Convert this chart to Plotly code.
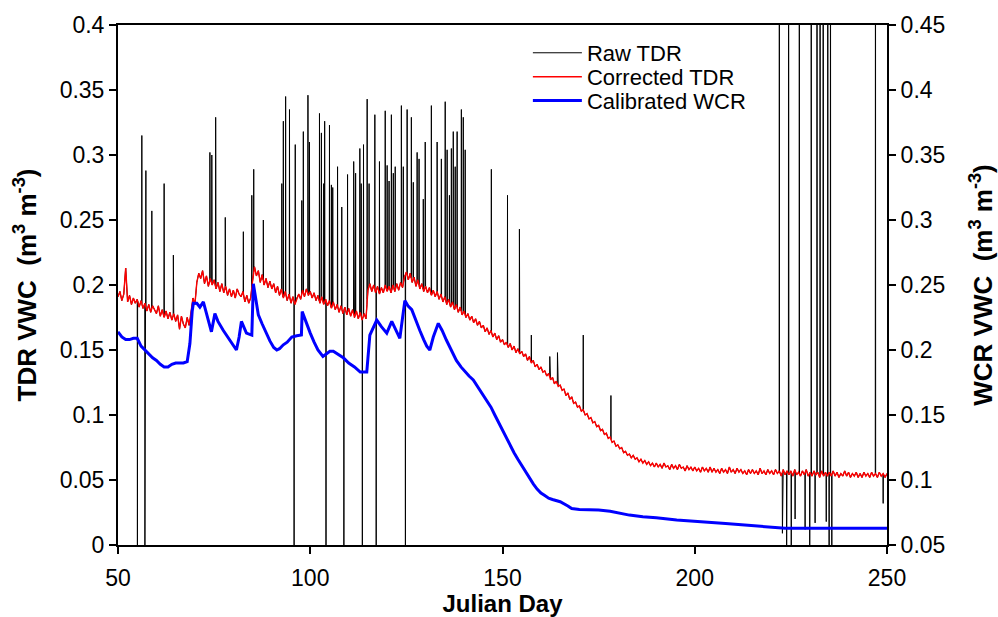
import numpy as np
import plotly.graph_objects as go

# ---------------- data ----------------
# Corrected TDR (left axis, m3 m-3), sampled every 0.5 day from day 50 to 250
corrected_start = 50.0
corrected_step = 0.5
corrected_tdr = [
    0.191, 0.195, 0.188, 0.193, 0.213, 0.187, 0.192, 0.185, 0.190, 0.186,
    0.189, 0.183, 0.188, 0.182, 0.186, 0.180, 0.185, 0.179, 0.184, 0.181,
    0.178, 0.184, 0.176, 0.181, 0.175, 0.180, 0.174, 0.179, 0.173, 0.178,
    0.172, 0.177, 0.166, 0.176, 0.170, 0.167, 0.175, 0.169, 0.178, 0.190,
    0.185, 0.202, 0.209, 0.205, 0.211, 0.201, 0.207, 0.199, 0.205, 0.200,
    0.204, 0.197, 0.202, 0.195, 0.201, 0.194, 0.199, 0.192, 0.197, 0.191,
    0.196, 0.190, 0.197, 0.193, 0.191, 0.195, 0.187, 0.192, 0.186, 0.190,
    0.203, 0.214, 0.207, 0.211, 0.202, 0.208, 0.200, 0.205, 0.198, 0.203,
    0.197, 0.201, 0.194, 0.199, 0.192, 0.197, 0.190, 0.195, 0.188, 0.193,
    0.186, 0.191, 0.185, 0.190, 0.193, 0.189, 0.196, 0.191, 0.197, 0.192,
    0.195, 0.190, 0.194, 0.188, 0.192, 0.186, 0.191, 0.185, 0.189, 0.184,
    0.188, 0.182, 0.187, 0.181, 0.185, 0.179, 0.184, 0.178, 0.183, 0.177,
    0.182, 0.176, 0.181, 0.175, 0.180, 0.174, 0.179, 0.173, 0.178, 0.174,
    0.196, 0.201, 0.195, 0.200, 0.194, 0.199, 0.193, 0.198, 0.194, 0.200,
    0.195, 0.199, 0.194, 0.200, 0.195, 0.201, 0.196, 0.202, 0.198, 0.206,
    0.210, 0.204, 0.209, 0.202, 0.206, 0.199, 0.204, 0.197, 0.201, 0.195,
    0.199, 0.194, 0.198, 0.192, 0.196, 0.191, 0.195, 0.189, 0.193, 0.187,
    0.191, 0.185, 0.189, 0.183, 0.187, 0.181, 0.185, 0.179, 0.183, 0.177,
    0.180, 0.175, 0.178, 0.173, 0.176, 0.171, 0.174, 0.169, 0.172, 0.167,
    0.169, 0.164, 0.167, 0.162, 0.165, 0.160, 0.163, 0.158, 0.161, 0.156,
    0.158, 0.154, 0.156, 0.152, 0.155, 0.150, 0.153, 0.148, 0.151, 0.147,
    0.149, 0.145, 0.147, 0.142, 0.145, 0.140, 0.142, 0.137, 0.139, 0.135,
    0.137, 0.133, 0.134, 0.130, 0.132, 0.127, 0.129, 0.124, 0.126, 0.122,
    0.123, 0.119, 0.120, 0.115, 0.117, 0.112, 0.114, 0.109, 0.110, 0.106,
    0.107, 0.103, 0.104, 0.100, 0.101, 0.097, 0.098, 0.094, 0.095, 0.091,
    0.092, 0.088, 0.089, 0.085, 0.086, 0.082, 0.083, 0.079, 0.080, 0.076,
    0.077, 0.074, 0.075, 0.071, 0.072, 0.069, 0.070, 0.067, 0.069, 0.066,
    0.067, 0.064, 0.066, 0.063, 0.065, 0.062, 0.064, 0.061, 0.063, 0.060,
    0.063, 0.060, 0.062, 0.059, 0.063, 0.060, 0.061, 0.058, 0.062, 0.059,
    0.061, 0.058, 0.062, 0.059, 0.060, 0.057, 0.061, 0.058, 0.060, 0.057,
    0.060, 0.057, 0.059, 0.056, 0.060, 0.057, 0.059, 0.056, 0.060, 0.056,
    0.059, 0.056, 0.058, 0.055, 0.059, 0.056, 0.058, 0.055, 0.060, 0.056,
    0.058, 0.055, 0.059, 0.056, 0.058, 0.055, 0.057, 0.054, 0.058, 0.055,
    0.058, 0.055, 0.057, 0.054, 0.059, 0.055, 0.057, 0.054, 0.058, 0.055,
    0.057, 0.054, 0.058, 0.055, 0.057, 0.053, 0.058, 0.054, 0.057, 0.054,
    0.057, 0.053, 0.058, 0.054, 0.056, 0.053, 0.057, 0.054, 0.058, 0.053,
    0.056, 0.053, 0.057, 0.054, 0.056, 0.052, 0.057, 0.053, 0.056, 0.053,
    0.056, 0.053, 0.057, 0.053, 0.056, 0.052, 0.055, 0.053, 0.057, 0.053,
    0.056, 0.052, 0.055, 0.053, 0.056, 0.052, 0.055, 0.052, 0.056, 0.053,
    0.055, 0.052, 0.056, 0.053, 0.055, 0.052, 0.056, 0.053, 0.055, 0.052,
    0.055,
]

# Raw TDR = corrected TDR plus these erroneous readings (day, value)
raw_spike_days = [
    55.05, 56.2, 57.0, 57.25, 58.8, 62.0, 64.4, 73.9, 74.4, 75.4,
    77.9, 82.6, 84.8, 85.3, 87.8, 92.6, 93.0, 93.6, 94.6, 95.8,
    96.1, 97.8, 98.2, 99.4, 99.8, 102.4, 102.9, 103.5, 103.75, 104.1,
    105.0, 105.5, 105.85, 107.1, 108.2, 108.75, 109.7, 111.3, 111.8, 112.9,
    113.25, 113.55, 113.85, 114.8, 115.3, 116.8, 117.15, 118.0, 119.5, 120.0,
    120.5, 121.1, 121.6, 122.1, 123.7, 124.2, 124.75, 125.2, 126.3, 126.8,
    127.8, 128.3, 129.4, 129.9, 131.5, 133.0, 134.1, 135.1, 135.6, 136.2,
    136.7, 137.2, 137.7, 138.2, 139.3, 139.8, 140.3, 147.1, 151.3, 154.4,
    157.5, 162.3, 164.3, 171.0, 178.2, 222.0, 222.8, 223.9, 224.4, 225.1,
    226.1, 227.2, 228.7, 229.9, 230.3, 231.3, 231.8, 232.6, 233.4, 234.2,
    234.6, 234.95, 235.3, 235.65, 247.0, 249.0,
]
raw_spike_values = [
    0.0, 0.315, 0.0, 0.288, 0.257, 0.278, 0.223, 0.302, 0.300, 0.329,
    0.252, 0.241, 0.269, 0.289, 0.250, 0.278, 0.326, 0.345, 0.335, 0.0,
    0.308, 0.265, 0.318, 0.346, 0.310, 0.332, 0.317, 0.278, 0.326, 0.0,
    0.323, 0.277, 0.275, 0.291, 0.260, 0.0, 0.285, 0.295, 0.286, 0.305,
    0.278, 0.0, 0.308, 0.343, 0.278, 0.331, 0.0, 0.295, 0.334, 0.292,
    0.280, 0.331, 0.286, 0.291, 0.338, 0.291, 0.0, 0.335, 0.329, 0.279,
    0.302, 0.297, 0.266, 0.310, 0.338, 0.310, 0.297, 0.341, 0.304, 0.269,
    0.305, 0.318, 0.291, 0.318, 0.335, 0.329, 0.304, 0.289, 0.269, 0.243,
    0.1615, 0.145, 0.148, 0.1615, 0.115, 0.6, 0.009, 0.0, 0.6, 0.0,
    0.02, 0.6, 0.012, 0.0, 0.6, 0.017, 0.6, 0.6, 0.6, 0.018,
    0.6, 0.0, 0.6, 0.0, 0.6, 0.032,
]

# Calibrated WCR (right axis, m3 m-3)
wcr_days = [
    50, 51, 52, 53, 54, 55, 56, 57, 58, 59,
    60, 61, 62, 63, 64, 65, 66, 67, 68, 68.7,
    69.3, 69.6, 70.5, 71.3, 72.2, 73, 74.3, 75.2, 76, 77.4,
    78.5, 79.5, 80.8, 81.5, 82.1, 83.4, 84.8, 85.2, 86.5, 87.5,
    88.5, 89.5, 90.5, 91.3, 92, 93, 94, 95.2, 96.5, 97.7,
    97.9, 99, 100, 101, 102, 103.3, 104.2, 105.1, 106, 107,
    108.6, 110, 111.5, 113, 114.7, 115.5, 116.5, 117.3, 118.5, 119.9,
    121.2, 122.2, 123.3, 124.6, 125.4, 126.4, 127.5, 128.5, 129.5, 130.3,
    131.1, 132, 133.3, 134.3, 135.4, 136.7, 138, 139.2, 140.3, 141.3,
    142.4, 143.5, 144.7, 145.9, 147, 148, 149, 150, 151, 152,
    153, 154, 155, 156, 157, 158, 159, 160, 161, 162,
    163, 164, 165, 167, 168, 170, 175, 178, 180.6, 183,
    186.5, 190, 195.3, 200, 204, 208, 213, 218, 223.5, 250,
]
wcr_values = [
    0.214, 0.210, 0.208, 0.208, 0.209, 0.209, 0.203, 0.200, 0.197, 0.194,
    0.192, 0.189, 0.187, 0.187, 0.189, 0.190, 0.190, 0.190, 0.191, 0.205,
    0.230, 0.236, 0.236, 0.233, 0.237, 0.228, 0.214, 0.228, 0.222, 0.215,
    0.210, 0.205, 0.200, 0.210, 0.222, 0.213, 0.2115, 0.251, 0.227, 0.220,
    0.213, 0.207, 0.202, 0.200, 0.201, 0.204, 0.206, 0.210, 0.211, 0.2115,
    0.2295, 0.220, 0.213, 0.206, 0.200, 0.195, 0.197, 0.199, 0.199, 0.197,
    0.194, 0.190, 0.187, 0.183, 0.183, 0.2115, 0.218, 0.223, 0.218, 0.213,
    0.222, 0.216, 0.209, 0.238, 0.234, 0.231, 0.222, 0.215, 0.208, 0.203,
    0.200, 0.210, 0.2205, 0.215, 0.2077, 0.200, 0.192, 0.187, 0.183, 0.180,
    0.177, 0.172, 0.167, 0.1615, 0.156, 0.150, 0.144, 0.138, 0.132, 0.127,
    0.121, 0.116, 0.111, 0.106, 0.102, 0.097, 0.093, 0.090, 0.088, 0.086,
    0.085, 0.084, 0.0833, 0.080, 0.078, 0.0774, 0.0769, 0.076, 0.0746, 0.073,
    0.0718, 0.071, 0.0692, 0.068, 0.0672, 0.0665, 0.0654, 0.064, 0.0628, 0.0628,
]

x_ticks = [50, 100, 150, 200, 250]
left_ticks = [0, 0.05, 0.1, 0.15, 0.2, 0.25, 0.3, 0.35, 0.4]
left_tick_text = ["0", "0.05", "0.1", "0.15", "0.2", "0.25", "0.3", "0.35", "0.4"]
right_ticks = [0.05, 0.1, 0.15, 0.2, 0.25, 0.3, 0.35, 0.4, 0.45]
right_tick_text = ["0.05", "0.1", "0.15", "0.2", "0.25", "0.3", "0.35", "0.4", "0.45"]

# ---------------- build series ----------------
corr_days = corrected_start + corrected_step * np.arange(len(corrected_tdr))
corr_vals = np.array(corrected_tdr)

ev_d = np.array(raw_spike_days)
ev_v = np.array(raw_spike_values)
assert len(ev_d) == len(ev_v)
assert len(wcr_days) == len(wcr_values)

keep = np.ones(len(corr_days), bool)
for d in ev_d:
    keep &= np.abs(corr_days - d) > 0.06
rx = list(corr_days[keep])
ry = list(corr_vals[keep])
w = 0.05
for d, v in zip(ev_d, ev_v):
    rx += [d - w, d, d + w]
    ry += [float(np.interp(d - w, corr_days, corr_vals)), v,
           float(np.interp(d + w, corr_days, corr_vals))]
order = np.argsort(rx, kind="stable")
raw_x = np.array(rx)[order]
raw_y = np.array(ry)[order]

# ---------------- figure ----------------
FONT = "Liberation Sans, Arial, sans-serif"
LEG_FONT = dict(family=FONT, size=22, color="black")

fig = go.Figure()
fig.add_trace(go.Scatter(x=raw_x, y=raw_y, mode="lines", name="Raw TDR",
                         line=dict(color="black", width=1), legend="legend"))
fig.add_trace(go.Scatter(x=corr_days, y=corr_vals, mode="lines", name="Corrected TDR",
                         line=dict(color="#ff0000", width=1.4), legend="legend2"))
fig.add_trace(go.Scatter(x=wcr_days, y=wcr_values, mode="lines", name="Calibrated WCR",
                         line=dict(color="#0000ff", width=3), yaxis="y2", legend="legend3"))

axis_common = dict(showline=True, linecolor="black", linewidth=2, ticks="outside",
                   ticklen=7, tickwidth=1.5, tickcolor="black", showgrid=False,
                   zeroline=False, automargin=False,
                   tickfont=dict(family=FONT, size=23, color="black"))

leg_common = dict(x=0.533, xanchor="left", yanchor="middle", bgcolor="rgba(0,0,0,0)",
                  font=LEG_FONT, itemwidth=49, borderwidth=0)

TITLE_FONT = dict(family=FONT, size=26, color="black")

fig.update_layout(
    width=998, height=617,
    margin=dict(l=118, r=111, t=25, b=72, autoexpand=False),
    paper_bgcolor="white", plot_bgcolor="white",
    font=dict(family=FONT, color="black"),
    showlegend=True,
    legend=dict(y=0.9462, **leg_common),
    legend2=dict(y=0.9002, **leg_common),
    legend3=dict(y=0.8542, **leg_common),
    xaxis=dict(range=[50, 250], tickvals=x_ticks, mirror=True, ticklabelstandoff=4,
               title=dict(text="<b>Julian Day</b>",
                          font=dict(family=FONT, size=24, color="black"), standoff=4),
               **axis_common),
    yaxis=dict(range=[0, 0.4], tickvals=left_ticks, ticktext=left_tick_text,
               title=dict(text="<b>TDR VWC  (m<sup>3</sup> m<sup>-3</sup>)</b>",
                          font=TITLE_FONT, standoff=16),
               **axis_common),
    yaxis2=dict(range=[0.05, 0.45], tickvals=right_ticks, ticktext=right_tick_text,
                overlaying="y", side="right",
                title=dict(text="<b>WCR VWC  (m<sup>3</sup> m<sup>-3</sup>)</b>",
                           font=TITLE_FONT, standoff=32),
                **axis_common),
)

fig.write_html("out.html")
